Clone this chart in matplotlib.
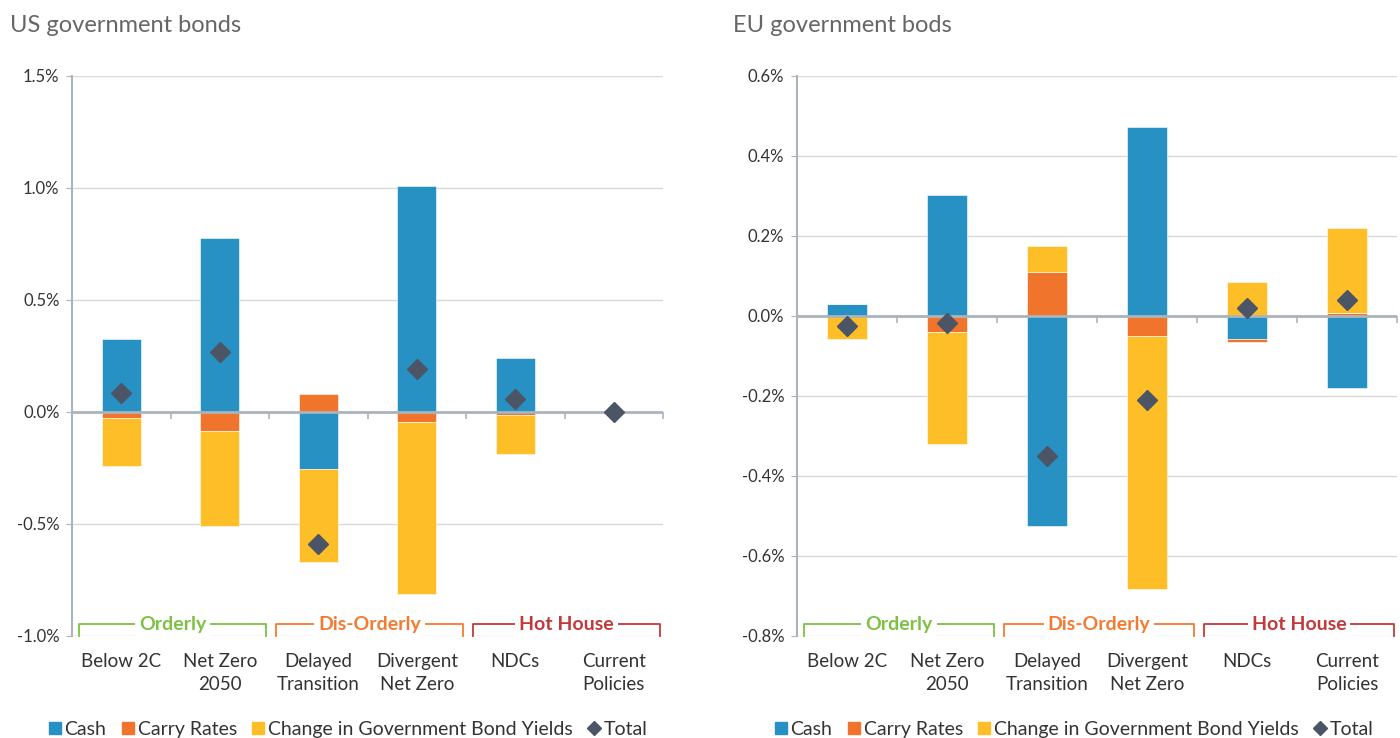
import matplotlib
matplotlib.use('Agg')
import matplotlib.pyplot as plt
import numpy as np
from matplotlib.patches import Patch
from matplotlib.lines import Line2D
from matplotlib.ticker import FuncFormatter

plt.rcParams['font.family'] = ['Lato', 'DejaVu Sans']

# 数据（单位：%）
categories = ['Below 2C', 'Net Zero\n2050', 'Delayed\nTransition',
              'Divergent\nNet Zero', 'NDCs', 'Current\nPolicies']
series_names = ['Cash', 'Carry Rates', 'Change in Government Bond Yields']

us_cash = [0.328, 0.779, -0.256, 1.010, 0.242, 0.0]
us_carry = [-0.028, -0.086, 0.079, -0.043, -0.013, 0.0]
us_yield = [-0.213, -0.424, -0.413, -0.771, -0.176, 0.0]
us_total = [0.086, 0.269, -0.588, 0.193, 0.056, 0.0]

eu_cash = [0.031, 0.302, -0.526, 0.472, -0.057, -0.180]
eu_carry = [0.0, -0.041, 0.109, -0.049, -0.008, 0.008]
eu_yield = [-0.057, -0.278, 0.067, -0.633, 0.086, 0.211]
eu_total = [-0.026, -0.017, -0.349, -0.210, 0.021, 0.040]

groups = [('Orderly', 0, 1, '#7dc142'),
          ('Dis-Orderly', 2, 3, '#f47a30'),
          ('Hot House', 4, 5, '#c0393b')]

colors = ['#2791c3', '#f0742c', '#fdbe28']
total_color = '#4b5566'
grid_color = '#d9d9d9'
axis_color = '#aab4bd'
text_color = '#333333'


def pct(v, p):
    v = round(v, 4)
    if v == 0:
        v = 0.0
    return f'{v:.1f}%'


def draw_panel(ax, cash, carry, yld, total, ylim, step, title, title_x):
    x = np.arange(len(categories))
    pos_base = np.zeros(len(x))
    neg_base = np.zeros(len(x))
    for vals, c in zip([cash, carry, yld], colors):
        vals = np.array(vals)
        base = np.where(vals >= 0, pos_base, neg_base)
        ax.bar(x, vals, width=0.4, bottom=base, color=c, zorder=3,
               edgecolor='white', linewidth=0.4)
        pos_base = pos_base + np.where(vals > 0, vals, 0)
        neg_base = neg_base + np.where(vals < 0, vals, 0)
    ax.plot(x, total, linestyle='none', marker='D', markersize=10,
            color=total_color, zorder=5)

    ax.set_xlim(-0.5, len(x) - 0.5)
    ax.set_ylim(*ylim)
    ax.set_yticks(np.round(np.arange(ylim[0], ylim[1] + step / 2, step), 4))
    ax.yaxis.set_major_formatter(FuncFormatter(pct))
    ax.grid(axis='y', color=grid_color, linewidth=1, zorder=0)
    ax.set_axisbelow(True)

    # 零线与分隔刻度
    ax.axhline(0, color=axis_color, linewidth=2, zorder=4)
    tick_len = (ylim[1] - ylim[0]) * 0.012
    ax.vlines(np.arange(len(x) + 1) - 0.5, -tick_len, 0,
              color=axis_color, linewidth=1.2, zorder=4, clip_on=False)

    for s in ['top', 'right', 'bottom']:
        ax.spines[s].set_visible(False)
    ax.spines['left'].set_color(axis_color)
    ax.spines['left'].set_linewidth(1.5)
    ax.tick_params(axis='y', length=4, color=axis_color, labelsize=12,
                   labelcolor=text_color, pad=5)
    ax.set_xticks(x)
    ax.set_xticklabels(categories, linespacing=1.45)
    ax.tick_params(axis='x', length=0, labelsize=13.5, labelcolor=text_color,
                   pad=12)

    # 分组括号
    y_bot = ylim[0]
    y_top = ylim[0] + (ylim[1] - ylim[0]) * 0.021
    for name, i0, i1, gc in groups:
        x0, x1 = i0 - 0.43, i1 + 0.47
        ax.plot([x0, x0, x1, x1], [y_bot, y_top, y_top, y_bot], color=gc,
                linewidth=1.3, zorder=6, clip_on=False)
        ax.text((x0 + x1) / 2, y_top, name, color=gc, fontsize=14,
                fontweight='bold', ha='center', va='center', zorder=7,
                bbox=dict(facecolor='white', edgecolor='none', pad=3))

    fig.text(title_x, 0.965, title, fontsize=17, color='#666666',
             ha='left', va='center')


fig = plt.figure(figsize=(14, 7.38), dpi=100)
ax1 = fig.add_axes([72 / 1400, 102 / 738, 591 / 1400, 560 / 738])
ax2 = fig.add_axes([797 / 1400, 102 / 738, 600 / 1400, 560 / 738])

draw_panel(ax1, us_cash, us_carry, us_yield, us_total, (-1.0, 1.5), 0.5,
           'US government bonds', 10 / 1400)
draw_panel(ax2, eu_cash, eu_carry, eu_yield, eu_total, (-0.8, 0.6), 0.2,
           'EU government bods', 733 / 1400)

handles = [Patch(color=c) for c in colors] + [
    Line2D([], [], linestyle='none', marker='D', markersize=7,
           color=total_color)]
labels = series_names + ['Total']
for lx in [49 / 1400, 775 / 1400]:
    fig.legend(handles, labels, loc='center left', bbox_to_anchor=(lx, 0.012),
               ncol=4, frameon=False, fontsize=14, handlelength=0.6,
               handleheight=0.6, handletextpad=0.2, columnspacing=0.8,
               labelcolor=text_color, borderaxespad=0, borderpad=0)

fig.savefig('out.png', dpi=100)
